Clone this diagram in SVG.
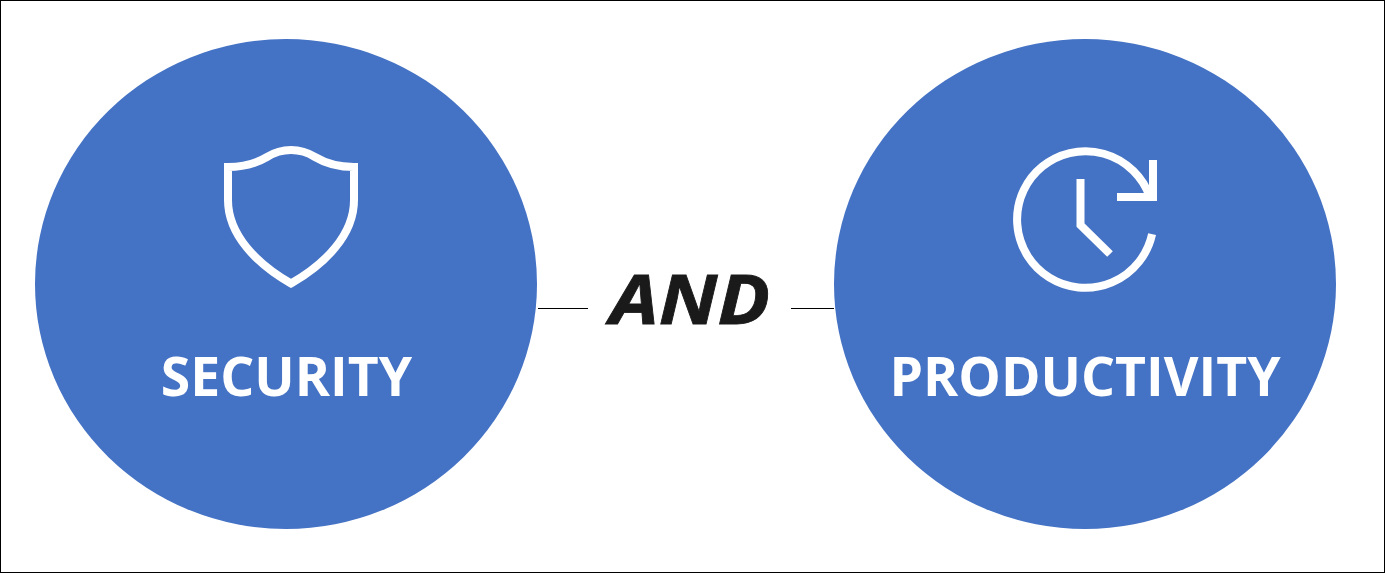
<svg xmlns="http://www.w3.org/2000/svg" width="1385" height="573" viewBox="0 0 1385 573">
<style>
.disc{fill:#4472c4}
.icon{fill:none;stroke:#fff;stroke-width:8;stroke-miterlimit:10}
.label{font-family:"Open Sans","Noto Sans",sans-serif;font-weight:700;font-size:53.500px;fill:#fff;text-anchor:middle}
.and{font-family:"Open Sans","Noto Sans",sans-serif;font-weight:700;font-style:italic;font-size:68px;fill:#1a1a1a;stroke:#1a1a1a;stroke-width:0.8px;text-anchor:middle}
.link{stroke:#000;stroke-width:1;fill:none}
</style>
<rect x="0.5" y="0.5" width="1384" height="572" fill="#fff" stroke="#000"/>
<g id="connectors">
<path class="link" d="M538 308.500H588"/>
<path class="link" d="M791 308.500H834"/>
</g>
<g id="security">
<ellipse class="disc" cx="286" cy="284" rx="251" ry="245"/>
<path class="icon" d="M228 167C245 167 257 163 267 157C275 152 281 150 291 150C301 150 307 152 315 157C325 163 337 167 354 167V200C354 235 325 264 291 283.500C257 264 228 235 228 200Z"/>
<text class="label" x="286.500" y="396">SECURITY</text>
</g>
<g id="and">
<text class="and" x="690" y="324" textLength="160" lengthAdjust="spacingAndGlyphs">AND</text>
</g>
<g id="productivity">
<ellipse class="disc" cx="1085" cy="284" rx="251" ry="245"/>
<path class="icon" d="M1152.100 234.200A68.300 68.300 0 1 1 1149.700 196.500"/>
<path class="icon" d="M1117 197H1153V160"/>
<path class="icon" d="M1080.500 179V225L1110 254"/>
<text class="label" x="1085" y="396">PRODUCTIVITY</text>
</g>
</svg>
